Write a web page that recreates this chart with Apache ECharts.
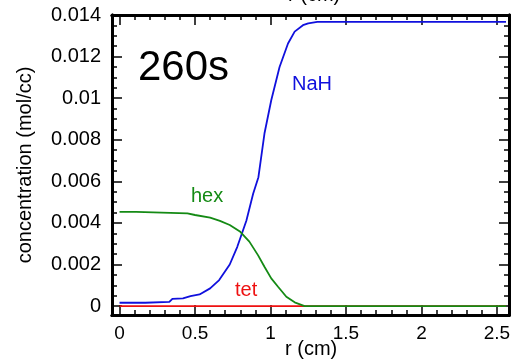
<!DOCTYPE html>
<html>
<head>
<meta charset="utf-8">
<script src="https://cdn.jsdelivr.net/npm/echarts@6/dist/echarts.min.js"></script>
<style>
html,body{margin:0;padding:0;background:#fff;}
#chart{width:516px;height:361px;}
</style>
</head>
<body>
<div id="chart"></div>
<script>
// ---- data ----
var nahR = [0, 0.17, 0.18, 0.33, 0.35, 0.42, 0.47, 0.53, 0.6, 0.66, 0.73, 0.78, 0.84, 0.885, 0.92, 0.96, 1.005, 1.06, 1.116, 1.16, 1.215, 1.25, 1.31, 2.56];
var nahV = [0.00016, 0.00016, 0.0002, 0.0002, 0.00035, 0.00037, 0.00048, 0.00056, 0.00085, 0.00125, 0.002, 0.00285, 0.0041, 0.0054, 0.0062, 0.0083, 0.0099, 0.0115, 0.01263, 0.0132, 0.01351, 0.0136, 0.01367, 0.01367];
var hexR = [0, 0.11, 0.12, 0.45, 0.5, 0.6, 0.665, 0.73, 0.8, 0.86, 0.917, 0.96, 1.005, 1.05, 1.105, 1.16, 1.226, 2.56];
var hexV = [0.00453, 0.00453, 0.00446, 0.00446, 0.00438, 0.00425, 0.0041, 0.0039, 0.00357, 0.0031, 0.00245, 0.00189, 0.00133, 0.00093, 0.00045, 0.00018, 0, 0];
var tetR = [0, 1.226, 2.56];
var tetV = [0, 0, 0];
var xTicks = [0, 0.5, 1, 1.5, 2, 2.5];
var yTicks = [0, 0.002, 0.004, 0.006, 0.008, 0.01, 0.012, 0.014];
var xLabel = 'r (cm)';
var yLabel = 'concentration (mol/cc)';
var timeLabel = '260s';

function zip(a, b) { return a.map(function (v, i) { return [v, b[i]]; }); }
var xMinor = [];
for (var i = 1; i <= 25; i++) { if (i % 5) xMinor.push(i / 10); }
var yMinor = [];
for (var j = 1; j <= 28; j++) { if (j % 4) yMinor.push(j * 0.0005); }

var FONT = 'Liberation Sans, Arial, Helvetica, sans-serif';
var X_MIN = -0.05, X_MAX = 2.58, Y_MIN = -0.00043, Y_MAX = 0.014;

function xAx(pos, ticks, len, labels) {
  return {
    type: 'value', position: pos, min: X_MIN, max: X_MAX,
    axisLine: { show: true, onZero: false, lineStyle: { color: '#000', width: 3 } },
    axisTick: { show: true, inside: true, length: len, customValues: ticks, lineStyle: { color: '#000', width: 1.5 } },
    axisLabel: labels ? { show: true, customValues: ticks, color: '#000', fontSize: 19, fontFamily: FONT, margin: 9 } : { show: false },
    splitLine: { show: false }
  };
}
function yAx(pos, ticks, len, labels) {
  return {
    type: 'value', position: pos, min: Y_MIN, max: Y_MAX,
    axisLine: { show: true, onZero: false, lineStyle: { color: '#000', width: 3 } },
    axisTick: { show: true, inside: true, length: len, customValues: ticks, lineStyle: { color: '#000', width: 1.5 } },
    axisLabel: labels ? { show: true, customValues: ticks, color: '#000', fontSize: 20, fontFamily: FONT, margin: 11 } : { show: false },
    splitLine: { show: false }
  };
}

var chart = echarts.init(document.getElementById('chart'));
chart.setOption({
  animation: false,
  backgroundColor: '#fff',
  grid: { left: 112, right: 7, top: 15, bottom: 46 },
  xAxis: [
    xAx('bottom', xTicks, 10, true),
    xAx('bottom', xMinor, 5, false),
    xAx('top', xTicks, 10, false),
    xAx('top', xMinor, 5, false)
  ],
  yAxis: [
    yAx('left', yTicks, 10, true),
    yAx('left', yMinor, 5, false),
    yAx('right', yTicks, 10, false),
    yAx('right', yMinor, 5, false)
  ],
  series: [
    { type: 'line', data: zip(tetR, tetV), symbol: 'none', lineStyle: { color: '#ee1111', width: 1.8 }, z: 3 },
    { type: 'line', data: zip(nahR, nahV), symbol: 'none', lineStyle: { color: '#1010dd', width: 1.8 }, z: 4 },
    { type: 'line', data: zip(hexR, hexV), symbol: 'none', lineStyle: { color: '#148a14', width: 1.8 }, z: 5 }
  ],
  graphic: [
    { type: 'text', left: 138, top: 47, style: { text: timeLabel, font: '42px ' + FONT, fill: '#000' } },
    { type: 'text', left: 292, top: 74, style: { text: 'NaH', font: '20px ' + FONT, fill: '#1010dd' } },
    { type: 'text', left: 191, top: 186, style: { text: 'hex', font: '20px ' + FONT, fill: '#148a14' } },
    { type: 'text', left: 235, top: 280, style: { text: 'tet', font: '20px ' + FONT, fill: '#ee1111' } },
    { type: 'text', left: 285, top: 339, style: { text: xLabel, font: '20px ' + FONT, fill: '#000' } },
    { type: 'text', left: 288, top: -15, style: { text: xLabel, font: '20px ' + FONT, fill: '#000' } },
    { type: 'text', x: 25, y: 165, rotation: Math.PI / 2, style: { text: yLabel, font: '20px ' + FONT, fill: '#000', align: 'center', verticalAlign: 'middle' } }
  ]
});
</script>
</body>
</html>
